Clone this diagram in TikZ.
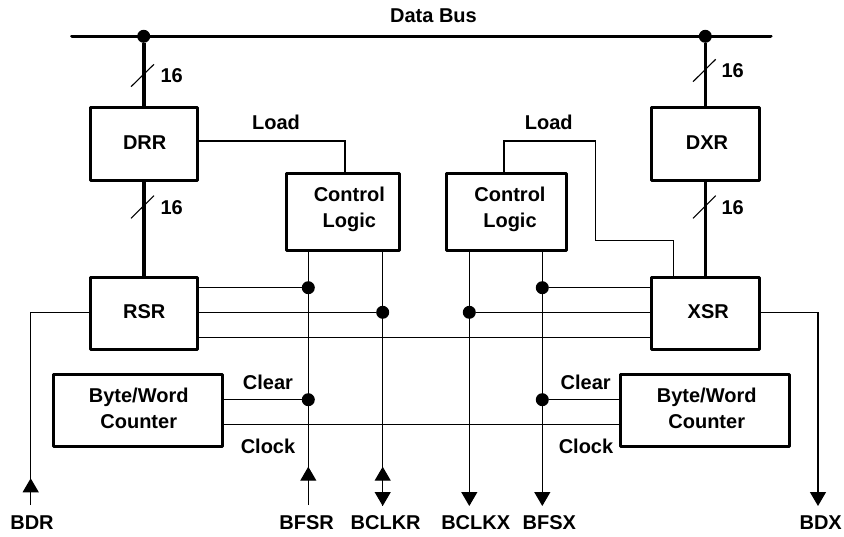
\documentclass[tikz,border=0pt]{standalone}
\usepackage{fontspec}
\setmainfont{Liberation Sans}
\usetikzlibrary{arrows.meta}
\begin{document}
\begin{tikzpicture}[x=1pt,y=-1pt,
 blk/.style={draw,line width=3pt,line join=round,inner sep=0pt,outer sep=0pt},
 lbl/.style={font=\bfseries\fontsize{20}{26}\selectfont,inner sep=0pt,align=center},
 bus/.style={line width=3.6pt,line cap=round},
 thick bus/.style={line width=3.6pt},
 wire/.style={line width=1.2pt},
 slash/.style={line width=1.1pt},
 dot/.style={circle,fill=black,inner sep=0pt,outer sep=0pt,minimum size=13pt},
 uptip/.style={-{Triangle[length=14pt,width=16pt,sep=0pt]},line width=1.2pt},
 downtip/.style={-{Triangle[length=14pt,width=16pt,sep=0pt]},line width=1.2pt}]
\useasboundingbox (0,0) rectangle (844,536);
% blocks
\node[blk,minimum width=107.5pt,minimum height=72.7pt] (drr) at (143.75,143.65) {};
\node[blk,minimum width=107.5pt,minimum height=72.7pt] (dxr) at (705.5,143.65) {};
\node[blk,minimum width=107.5pt,minimum height=71.7pt] (rsr) at (143.75,313.15) {};
\node[blk,minimum width=107.5pt,minimum height=71.7pt] (xsr) at (705.5,313.15) {};
\node[blk,minimum width=112.3pt,minimum height=77pt] (cl) at (342.85,212) {};
\node[blk,minimum width=120.7pt,minimum height=77pt] (cr) at (506.35,212) {};
\node[blk,minimum width=169pt,minimum height=72.4pt] (bl) at (137.8,410.5) {};
\node[blk,minimum width=168.6pt,minimum height=72.4pt] (br) at (705,410.5) {};
% texts
\node[lbl] (tbus) at (433.5,16) {Data Bus};
\node[lbl] (tdrr) at (144.7,142.3) {DRR};
\node[lbl] (tdxr) at (707,142.3) {DXR};
\node[lbl] (trsr) at (144.3,312) {RSR};
\node[lbl] (txsr) at (708.3,312) {XSR};
\node[lbl] (tcl) at (349.3,209) {Control\\Logic};
\node[lbl] (tcr) at (510,209) {Control\\Logic};
\node[lbl] (tbl) at (138.7,408) {Byte/Word\\Counter};
\node[lbl] (tbr) at (706.7,408) {Byte/Word\\Counter};
\node[lbl] (n1) at (171.7,76) {16};
\node[lbl] (n2) at (171.7,208) {16};
\node[lbl] (n3) at (732.7,70.7) {16};
\node[lbl] (n4) at (732.7,208) {16};
\node[lbl] (loadl) at (276,122.7) {Load};
\node[lbl] (loadr) at (548.7,122.7) {Load};
\node[lbl] (clearl) at (268,382) {Clear};
\node[lbl] (clockl) at (268,446.7) {Clock};
\node[lbl] (clearr) at (585.7,382) {Clear};
\node[lbl] (clockr) at (586,446.7) {Clock};
\node[lbl] (bdr) at (32,523) {BDR};
\node[lbl] (bfsr) at (306.7,523) {BFSR};
\node[lbl] (bclkr) at (385.7,523) {BCLKR};
\node[lbl] (bclkx) at (475.7,523) {BCLKX};
\node[lbl] (bfsx) at (549.3,523) {BFSX};
\node[lbl] (bdx) at (820.7,523) {BDX};
% bus
\coordinate (busL) at (72,36.3); \coordinate (busR) at (770.7,36.3);
\draw[bus] (busL)--(busR);
\node[dot] (dL) at (143.7,36.3) {};
\node[dot] (dR) at (705.3,36.3) {};
\draw[thick bus] (dL)--(dL |- drr.north);
\draw[thick bus] (dL |- drr.south)--(dL |- rsr.north);
\draw[thick bus] (dR)--(dR |- dxr.north);
\draw[thick bus] (dR |- dxr.south)--(dR |- xsr.north);
% bus width slashes
\coordinate (s1a) at (131,86.7); \coordinate (s1b) at (154,64.3);
\coordinate (s2a) at (131,218.3); \coordinate (s2b) at (154,195.7);
\coordinate (s3a) at (693,81.7); \coordinate (s3b) at (715.7,59.3);
\coordinate (s4a) at (693,218.3); \coordinate (s4b) at (715.7,195.7);
\draw[slash] (s1a)--(s1b); \draw[slash] (s2a)--(s2b);
\draw[slash] (s3a)--(s3b); \draw[slash] (s4a)--(s4b);
% junctions
\node[dot] (j1) at (308.3,287.7) {};
\node[dot] (j2) at (382.7,312.3) {};
\node[dot] (j3) at (469.3,312.3) {};
\node[dot] (j4) at (542.3,287.7) {};
\node[dot] (j5) at (308.3,399.7) {};
\node[dot] (j6) at (542.3,399.7) {};
% load wires
\coordinate (ll) at (345,141);
\draw[wire] (drr.east |- ll)--(ll)--(ll |- cl.north);
\coordinate (lr1) at (504,141); \coordinate (lr2) at (595.7,141);
\coordinate (lr3) at (595.7,240.3); \coordinate (lr4) at (673.7,240.3);
\draw[wire] (lr1 |- cr.north)--(lr1)--(lr2)--(lr3)--(lr4)--(lr4 |- xsr.north);
% shift register wires
\draw[wire] (rsr.east |- j1)--(j1);
\draw[wire] (rsr.east |- j2)--(j2);
\draw[wire] (xsr.west |- j3)--(j3);
\draw[wire] (xsr.west |- j4)--(j4);
\coordinate (m) at (400,337.3);
\draw[wire] (rsr.east |- m)--(xsr.west |- m);
% counters
\draw[wire] (bl.east |- j5)--(j5);
\draw[wire] (br.west |- j6)--(j6);
\coordinate (c) at (400,424.7);
\draw[wire] (bl.east |- c)--(br.west |- c);
% pins
\coordinate (eBdr) at (30.7,505); \coordinate (aBdr) at (30.7,478.3);
\coordinate (eFsr) at (308.3,505); \coordinate (aFsr) at (308.3,466.7);
\coordinate (eClr) at (382.7,506); \coordinate (aClr) at (382.7,466.7);
\coordinate (eClx) at (469.3,506); \coordinate (eFsx) at (542.3,506); \coordinate (eBdx) at (818,506);
\draw[wire] (rsr.west |- j2)--(eBdr |- j2)--(eBdr);
\draw[uptip] (eBdr)--(aBdr);
\draw[wire] (eFsr |- cl.south)--(eFsr);
\draw[uptip] (eFsr)--(aFsr);
\draw[downtip] (eClr |- cl.south)--(eClr);
\draw[uptip] (eClr)--(aClr);
\draw[downtip] (eClx |- cr.south)--(eClx);
\draw[downtip] (eFsx |- cr.south)--(eFsx);
\draw[downtip] (xsr.east |- j2)--(eBdx |- j2)--(eBdx);
\end{tikzpicture}
\end{document}
